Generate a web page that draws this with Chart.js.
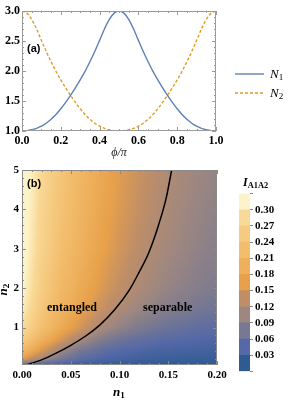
<!DOCTYPE html>
<html>
<head>
<meta charset="utf-8">
<script src="https://cdn.jsdelivr.net/npm/chart.js@4.4.0/dist/chart.umd.min.js"></script>
<style>
  body { margin: 0; background: #fff; width: 291px; height: 403px; position: relative; overflow: hidden; font-family: 'Liberation Serif', serif; }
  canvas { position: absolute; }
  #lines { left: 0; top: 0; }
  #heat { left: 0; top: 160px; }
  #bar { left: 230px; top: 185px; }
  .t { position: absolute; white-space: nowrap; line-height: 1; color: #000; }
  .panel { font-family: 'Liberation Sans', Arial, sans-serif; font-weight: bold; font-size: 11px; }
  .note { font-weight: bold; font-size: 12px; }
  sub { font-size: 70%; vertical-align: -0.25em; font-style: normal; }
</style>
</head>
<body>
<canvas id="lines" width="291" height="165"></canvas>
<canvas id="heat" width="235" height="243"></canvas>
<canvas id="bar" width="61" height="195"></canvas>

<div class="t panel" style="left:27px; top:43px;">(a)</div>
<div class="t panel" style="left:27px; top:178px;">(b)</div>

<svg style="position:absolute; left:234px; top:68px;" width="32" height="30">
  <line x1="1" y1="6" x2="30" y2="6" stroke="#5e81b5" stroke-width="1.4"/>
  <line x1="1" y1="25" x2="30" y2="25" stroke="#e19c24" stroke-width="1.4" stroke-dasharray="3,2"/>
</svg>
<div class="t" style="left:270px; top:67px; font-size:13px;"><i>N</i><sub>1</sub></div>
<div class="t" style="left:270px; top:86px; font-size:13px;"><i>N</i><sub>2</sub></div>

<div class="t note" style="left:47px; top:301px;">entangled</div>
<div class="t note" style="left:143px; top:301px;">separable</div>
<div class="t" style="left:113px; top:385px; font-size:13px; font-weight:bold;"><i>n</i><sub>1</sub></div>
<div class="t" style="left:-2px; top:282px; font-size:13px; font-weight:bold; transform:rotate(-90deg);"><i>n</i><sub>2</sub></div>
<div class="t" style="left:243px; top:176px; font-size:12px; font-weight:bold;"><i>I</i><sub>A1A2</sub></div>

<script>
// panel (a): photon numbers against phi/pi
const phi = [0, 0.025, 0.05, 0.075, 0.1, 0.125, 0.15, 0.175, 0.2, 0.225, 0.25,
             0.275, 0.3, 0.325, 0.35, 0.375, 0.4, 0.425, 0.45, 0.475, 0.5,
             0.525, 0.55, 0.575, 0.6, 0.625, 0.65, 0.675, 0.7, 0.725, 0.75,
             0.775, 0.8, 0.825, 0.85, 0.875, 0.9, 0.925, 0.95, 0.975, 1.0];
const n1Line = [1.00, 1.005, 1.02, 1.045, 1.08, 1.13, 1.195, 1.275, 1.37, 1.478, 1.595,
                1.72, 1.853, 1.995, 2.155, 2.325, 2.51, 2.70, 2.86, 2.965, 3.00,
                2.965, 2.86, 2.70, 2.51, 2.325, 2.155, 1.995, 1.853, 1.72, 1.595,
                1.478, 1.37, 1.275, 1.195, 1.13, 1.08, 1.045, 1.02, 1.005, 1.00];
const n2Line = [3.00, 2.965, 2.86, 2.70, 2.51, 2.325, 2.155, 1.995, 1.853, 1.72, 1.595,
                1.478, 1.37, 1.275, 1.195, 1.13, 1.08, 1.045, 1.02, 1.005, 1.00,
                1.005, 1.02, 1.045, 1.08, 1.13, 1.195, 1.275, 1.37, 1.478, 1.595,
                1.72, 1.853, 1.995, 2.155, 2.325, 2.51, 2.70, 2.86, 2.965, 3.00];

// panel (b): I_A1A2 over (n1, n2), one row per n2 value
const n1Grid = [0, 0.01, 0.02, 0.04, 0.06, 0.08, 0.10, 0.12, 0.14, 0.16, 0.18, 0.20];
const n2Grid = [0.05, 0.2, 0.4, 0.7, 1, 1.5, 2, 3, 4, 5];
const infoRows = [
  [0.05, 0.04, 0.033, 0.026, 0.021, 0.018, 0.016, 0.014, 0.013, 0.012, 0.011, 0.011],
  [0.16, 0.13, 0.11, 0.073, 0.052, 0.04, 0.033, 0.029, 0.026, 0.024, 0.023, 0.022],
  [0.21, 0.18, 0.15, 0.103, 0.072, 0.055, 0.045, 0.039, 0.035, 0.032, 0.031, 0.03],
  [0.26, 0.23, 0.20, 0.15, 0.112, 0.085, 0.068, 0.058, 0.051, 0.047, 0.044, 0.042],
  [0.29, 0.26, 0.23, 0.185, 0.148, 0.117, 0.095, 0.08, 0.069, 0.062, 0.056, 0.052],
  [0.31, 0.28, 0.25, 0.205, 0.17, 0.143, 0.12, 0.104, 0.091, 0.082, 0.075, 0.069],
  [0.32, 0.29, 0.26, 0.215, 0.185, 0.157, 0.135, 0.118, 0.104, 0.094, 0.086, 0.08],
  [0.33, 0.30, 0.27, 0.23, 0.197, 0.17, 0.148, 0.13, 0.115, 0.104, 0.095, 0.088],
  [0.33, 0.305, 0.277, 0.238, 0.205, 0.177, 0.155, 0.137, 0.122, 0.11, 0.10, 0.093],
  [0.33, 0.31, 0.282, 0.243, 0.21, 0.182, 0.16, 0.142, 0.127, 0.115, 0.105, 0.098]
];

// entangled / separable border
const borderN1 = [0.004, 0.02, 0.035, 0.05, 0.065, 0.08, 0.095, 0.11, 0.12, 0.13, 0.14, 0.148, 0.1535];
const borderN2 = [0.05, 0.18, 0.35, 0.55, 0.78, 1.07, 1.45, 1.95, 2.4, 2.9, 3.6, 4.3, 5.0];

// colour bar bands (lower edges)
const bandStarts = [0, 0.03, 0.06, 0.09, 0.12, 0.15, 0.18, 0.21, 0.24, 0.27, 0.30];
const bandWidth = 0.03;

const bandColours = ['#2f5b93', '#5568a8', '#777892', '#9e8780', '#c08e66', '#e8a04a',
                     '#eeb05c', '#f2bd6c', '#f6ca80', '#f9d996', '#fdf3c8'];

const hexToRgb = h => [1, 3, 5].map(i => parseInt(h.slice(i, i + 2), 16));
const bandRgb = bandColours.map(hexToRgb);

// continuous colour through band centres
const colourFor = v => {
  const t = (v - bandWidth / 2) / bandWidth;
  if (t <= 0) return bandRgb[0];
  if (t >= bandRgb.length - 1) return bandRgb[bandRgb.length - 1];
  const i = Math.floor(t), f = t - i;
  const a = bandRgb[i], b = bandRgb[i + 1];
  return [a[0] + (b[0] - a[0]) * f, a[1] + (b[1] - a[1]) * f, a[2] + (b[2] - a[2]) * f];
};

const locate = (grid, v) => {
  let i = 0;
  while (i < grid.length - 2 && v > grid[i + 1]) i++;
  const f = Math.min(1, Math.max(0, (v - grid[i]) / (grid[i + 1] - grid[i])));
  return [i, f];
};

const sampleGrid = (v1, v2) => {
  const [i, fx] = locate(n1Grid, v1);
  const [j, fy] = locate(n2Grid, v2);
  const lo = infoRows[j][i] * (1 - fx) + infoRows[j][i + 1] * fx;
  const hi = infoRows[j + 1][i] * (1 - fx) + infoRows[j + 1][i + 1] * fx;
  return lo * (1 - fy) + hi * fy;
};

// density layer, shaded pixel by pixel through the chart scales
const heatLayer = {
  id: 'heatLayer',
  beforeDatasetsDraw(chart) {
    const { ctx, chartArea: a, scales: { x, y } } = chart;
    const w = Math.round(a.right - a.left), h = Math.round(a.bottom - a.top);
    const off = document.createElement('canvas');
    off.width = w; off.height = h;
    const octx = off.getContext('2d');
    const img = octx.createImageData(w, h);
    for (let py = 0; py < h; py++) {
      const v2 = y.getValueForPixel(a.top + py + 0.5);
      for (let px = 0; px < w; px++) {
        const v1 = x.getValueForPixel(a.left + px + 0.5);
        const c = colourFor(sampleGrid(v1, v2));
        const k = (py * w + px) * 4;
        img.data[k] = c[0]; img.data[k + 1] = c[1]; img.data[k + 2] = c[2]; img.data[k + 3] = 255;
      }
    }
    octx.putImageData(img, 0, 0);
    ctx.drawImage(off, a.left, a.top);
  }
};

// frame with inward ticks
const frameTicks = {
  id: 'frameTicks',
  afterDatasetsDraw(chart, args, o) {
    const { ctx, chartArea: a, scales: { x, y } } = chart;
    ctx.save();
    ctx.strokeStyle = o.color;
    ctx.lineWidth = 1;
    ctx.strokeRect(a.left + 0.5, a.top + 0.5, a.right - a.left - 1, a.bottom - a.top - 1);
    ctx.beginPath();
    const marks = (scale, step, len, horizontal) => {
      const start = Math.ceil(scale.min / step - 1e-6);
      const end = Math.floor(scale.max / step + 1e-6);
      for (let k = start; k <= end; k++) {
        const p = Math.round(scale.getPixelForValue(k * step)) + 0.5;
        if (horizontal) {
          ctx.moveTo(p, a.bottom); ctx.lineTo(p, a.bottom - len);
          ctx.moveTo(p, a.top); ctx.lineTo(p, a.top + len);
        } else {
          ctx.moveTo(a.left, p); ctx.lineTo(a.left + len, p);
          ctx.moveTo(a.right, p); ctx.lineTo(a.right - len, p);
        }
      }
    };
    marks(x, o.xMajor, 4, true);
    marks(x, o.xMinor, 2, true);
    marks(y, o.yMajor, 4, false);
    marks(y, o.yMinor, 2, false);
    ctx.stroke();
    ctx.restore();
  }
};

const tickFont = size => ({ family: 'Liberation Serif', weight: 'bold', size });

new Chart(document.getElementById('lines'), {
  type: 'line',
  data: {
    datasets: [
      { label: 'N1', data: phi.map((p, i) => ({ x: p, y: n1Line[i] })),
        borderColor: '#5e81b5', borderWidth: 1.4, pointRadius: 0, cubicInterpolationMode: 'monotone' },
      { label: 'N2', data: phi.map((p, i) => ({ x: p, y: n2Line[i] })),
        borderColor: '#e19c24', borderWidth: 1.4, borderDash: [3, 2], pointRadius: 0, cubicInterpolationMode: 'monotone' }
    ]
  },
  options: {
    responsive: false,
    animation: false,
    layout: { padding: { left: 0, top: 11, right: 75, bottom: 0 } },
    plugins: {
      legend: { display: false },
      tooltip: { enabled: false },
      frameTicks: { color: '#9a9a9a', xMajor: 0.2, xMinor: 0.05, yMajor: 0.5, yMinor: 0.1 }
    },
    scales: {
      x: {
        type: 'linear', min: 0, max: 1,
        grid: { display: false, drawTicks: false }, border: { display: false },
        ticks: { stepSize: 0.2, padding: 3, color: '#000', font: tickFont(12), maxRotation: 0,
                 callback: v => v.toFixed(1) },
        title: { display: true, text: 'ϕ/π', color: '#222', padding: { top: 0, bottom: 5 },
                 font: { family: 'Liberation Serif', style: 'italic', size: 12 } },
        afterFit: s => { s.height = 34; }
      },
      y: {
        min: 1, max: 3,
        grid: { display: false, drawTicks: false }, border: { display: false },
        ticks: { stepSize: 0.5, padding: 2, color: '#000', font: tickFont(12),
                 callback: v => v.toFixed(1) },
        afterFit: s => { s.width = 22; }
      }
    }
  },
  plugins: [frameTicks]
});

new Chart(document.getElementById('heat'), {
  type: 'scatter',
  data: {
    datasets: [
      { label: 'border', data: borderN1.map((v, i) => ({ x: v, y: borderN2[i] })),
        showLine: true, borderColor: '#000', borderWidth: 1.5, pointRadius: 0,
        cubicInterpolationMode: 'monotone' }
    ]
  },
  options: {
    responsive: false,
    animation: false,
    layout: { padding: { left: 0, top: 10, right: 18, bottom: 0 } },
    plugins: {
      legend: { display: false },
      tooltip: { enabled: false },
      frameTicks: { color: '#8a8a8a', xMajor: 0.05, xMinor: 0.01, yMajor: 1, yMinor: 0.2 }
    },
    scales: {
      x: {
        type: 'linear', min: 0, max: 0.2,
        grid: { display: false, drawTicks: false }, border: { display: false },
        ticks: { stepSize: 0.05, padding: 4, color: '#000', font: tickFont(11), maxRotation: 0,
                 callback: v => v.toFixed(2) },
        afterFit: s => { s.height = 38; }
      },
      y: {
        type: 'linear', min: 0.05, max: 5,
        grid: { display: false, drawTicks: false }, border: { display: false },
        ticks: { stepSize: 1, padding: 3, color: '#000', font: tickFont(11) },
        afterBuildTicks: s => { s.ticks = s.ticks.filter(t => Number.isInteger(t.value)); },
        afterFit: s => { s.width = 22; }
      }
    }
  },
  plugins: [heatLayer, frameTicks]
});

new Chart(document.getElementById('bar'), {
  type: 'bar',
  data: {
    labels: [''],
    datasets: bandStarts.map((b, i) => ({
      label: b.toFixed(2), data: [bandWidth], backgroundColor: bandColours[i],
      borderWidth: 0, barPercentage: 1, categoryPercentage: 1, stack: 'bar'
    }))
  },
  options: {
    responsive: false,
    animation: false,
    layout: { padding: { left: 9, top: 8, right: 0, bottom: 8 } },
    plugins: { legend: { display: false }, tooltip: { enabled: false } },
    scales: {
      x: { display: false, stacked: true },
      y: {
        position: 'right', stacked: true, min: 0, max: 0.33,
        grid: { drawOnChartArea: false, tickLength: 3, color: '#888', display: true },
        border: { display: false },
        ticks: { stepSize: 0.03, padding: 2, color: '#000', font: tickFont(11),
                 callback: v => (v > 0.001 && v < 0.32) ? v.toFixed(2) : '' },
        afterFit: s => { s.width = 41; }
      }
    }
  }
});
</script>
</body>
</html>
